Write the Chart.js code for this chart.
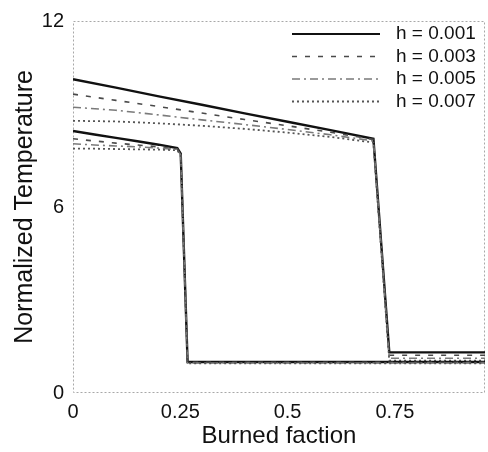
<!DOCTYPE html>
<html>
<head>
<meta charset="utf-8">
<script src="https://cdn.jsdelivr.net/npm/chart.js@4/dist/chart.umd.min.js"></script>
<style>
  html, body { margin: 0; padding: 0; background: #fff; }
  #wrap { width: 488px; height: 452px; }
</style>
</head>
<body>
<div id="wrap"><canvas id="c" width="488" height="452"></canvas></div>
<script>
// ---- data ----
const hLabels = ['h = 0.001', 'h = 0.003', 'h = 0.005', 'h = 0.007'];
const xTicks = [0, 0.25, 0.5, 0.75];
const yTicks = [0, 6, 12];

// case with late burn-out (upper group)
const upperX = [0, 0.1, 0.2, 0.3, 0.4, 0.5, 0.6, 0.7, 0.737, 0.96];
const upperH001 = [10.12, 9.85, 9.57, 9.30, 9.02, 8.75, 8.48, 8.20, 1.31, 1.31];
const upperH003 = [9.64, 9.44, 9.24, 9.03, 8.82, 8.62, 8.41, 8.18, 1.22, 1.22];
const upperH005 = [9.22, 9.12, 8.97, 8.81, 8.66, 8.50, 8.33, 8.13, 1.12, 1.12];
const upperH007 = [8.78, 8.76, 8.70, 8.62, 8.52, 8.40, 8.26, 8.08, 1.04, 1.04];

// case with early burn-out (lower group)
const lowerX = [0, 0.05, 0.1, 0.15, 0.2, 0.243, 0.251, 0.267, 0.96];
const lowerH001 = [8.45, 8.34, 8.23, 8.12, 8.01, 7.90, 7.72, 1.00, 1.00];
const lowerH003 = [8.20, 8.13, 8.06, 8.00, 7.94, 7.88, 7.70, 0.99, 0.99];
const lowerH005 = [8.04, 8.00, 7.97, 7.94, 7.90, 7.86, 7.68, 0.97, 0.97];
const lowerH007 = [7.88, 7.88, 7.87, 7.86, 7.85, 7.83, 7.66, 0.96, 0.96];

// ---- styles ----
const styles = [
  { color: '#111111', width: 2.4, dash: [] },
  { color: '#4a4a4a', width: 1.6, dash: [5, 8] },
  { color: '#7a7a7a', width: 1.6, dash: [8, 4, 2, 4] },
  { color: '#555555', width: 1.8, dash: [2, 3] }
];

function pts(xs, ys) { return xs.map((x, i) => ({ x: x, y: ys[i] })); }

const upperSets = [upperH001, upperH003, upperH005, upperH007];
const lowerSets = [lowerH001, lowerH003, lowerH005, lowerH007];

const datasets = [];
upperSets.forEach((ys, i) => datasets.push({
  label: hLabels[i], data: pts(upperX, ys),
  borderColor: styles[i].color, borderWidth: styles[i].width, borderDash: styles[i].dash,
  pointRadius: 0, tension: 0, fill: false
}));
lowerSets.forEach((ys, i) => datasets.push({
  label: hLabels[i] + ' (b)', data: pts(lowerX, ys),
  borderColor: styles[i].color, borderWidth: styles[i].width, borderDash: styles[i].dash,
  pointRadius: 0, tension: 0, fill: false
}));
// draw solid lines on top
datasets.reverse();

const FONT = "'Liberation Sans', Arial, Helvetica, sans-serif";

const framePlugin = {
  id: 'frame',
  beforeDatasetsDraw(chart) {
    const a = chart.chartArea, ctx = chart.ctx;
    ctx.save();
    ctx.strokeStyle = '#a8a8a8';
    ctx.lineWidth = 1;
    ctx.setLineDash([2, 2]);
    ctx.strokeRect(a.left + 0.5, a.top + 0.5, a.right - a.left - 1, a.bottom - a.top - 1);
    ctx.restore();
  }
};

const legendPlugin = {
  id: 'insideLegend',
  afterDatasetsDraw(chart) {
    const ctx = chart.ctx;
    const x0 = 292, x1 = 380, tx = 396, y0 = 34, dy = 22.5;
    ctx.save();
    hLabels.forEach((lab, i) => {
      const y = y0 + i * dy;
      ctx.strokeStyle = styles[i].color;
      ctx.lineWidth = Math.min(styles[i].width, 2);
      ctx.setLineDash(styles[i].dash);
      ctx.beginPath();
      ctx.moveTo(x0, y);
      ctx.lineTo(x1, y);
      ctx.stroke();
      ctx.setLineDash([]);
      ctx.fillStyle = '#111';
      ctx.font = "19px " + FONT;
      ctx.textBaseline = 'middle';
      ctx.textAlign = 'left';
      ctx.fillText(lab, tx, y);
    });
    ctx.restore();
  }
};

new Chart(document.getElementById('c'), {
  type: 'line',
  data: { datasets: datasets },
  plugins: [framePlugin, legendPlugin],
  options: {
    responsive: false,
    animation: false,
    layout: { padding: { top: 17, right: 3, left: 0, bottom: 0 } },
    plugins: { legend: { display: false }, tooltip: { enabled: false } },
    scales: {
      x: {
        type: 'linear', min: 0, max: 0.96,
        afterBuildTicks(s) { s.ticks = xTicks.map(v => ({ value: v })); },
        afterFit(s) { s.height = 59; },
        grid: { display: false, drawTicks: false },
        border: { display: false },
        ticks: {
          padding: 7, color: '#111', font: { family: FONT, size: 20 },
          maxRotation: 0, autoSkip: false,
          callback: v => String(v)
        },
        title: {
          display: true, text: 'Burned faction', color: '#111',
          font: { family: FONT, size: 24, lineHeight: 1.2 },
          padding: { top: 0, bottom: 1 }
        }
      },
      y: {
        type: 'linear', min: 0, max: 12,
        afterBuildTicks(s) { s.ticks = yTicks.map(v => ({ value: v })); },
        afterFit(s) { s.width = 73; },
        grid: { display: false, drawTicks: false },
        border: { display: false },
        ticks: {
          padding: 9, color: '#111', font: { family: FONT, size: 20 },
          autoSkip: false, callback: v => String(v)
        },
        title: {
          display: true, text: 'Normalized Temperature', color: '#111',
          font: { family: FONT, size: 25, lineHeight: 1.2 },
          padding: { top: 10, bottom: 0 }
        }
      }
    }
  }
});
</script>
</body>
</html>
